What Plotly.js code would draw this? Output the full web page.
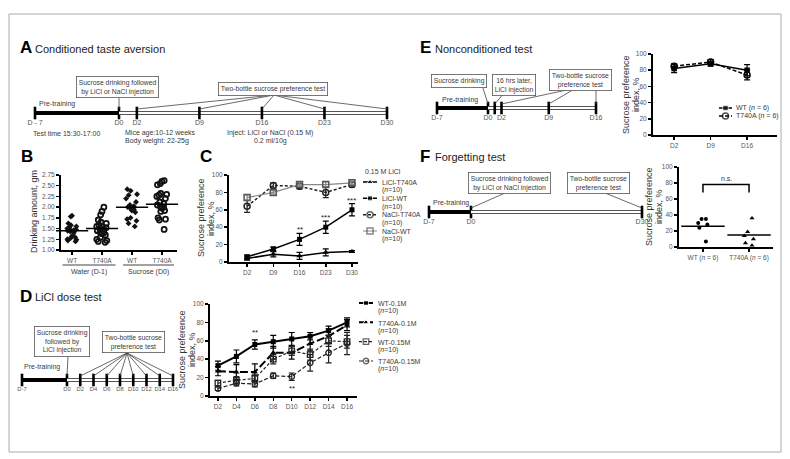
<!DOCTYPE html>
<html><head><meta charset="utf-8">
<script src="https://cdn.plot.ly/plotly-3.0.1.min.js"></script>
<style>html,body{margin:0;padding:0;background:#fff}#chart{width:790px;height:459px}</style>
</head><body><div id="chart"></div>
<script>
// ================= DATA =================
// Panel B: drinking amount (gm)
const bCategories = ["WT-water", "T740A-water", "WT-sucrose", "T740A-sucrose"];
const bTickLabels = ["WT", "T740A", "WT", "T740A"];
const bGroupLabels = ["Water (D-1)", "Sucrose (D0)"];
const bWTWater = [1.80, 1.78, 1.62, 1.58, 1.55, 1.52, 1.50, 1.48, 1.47, 1.46, 1.45, 1.43, 1.40, 1.32, 1.30, 1.28, 1.25, 1.24, 1.22, 1.20];
const bT740AWater = [2.00, 1.90, 1.82, 1.70, 1.65, 1.62, 1.58, 1.55, 1.52, 1.50, 1.48, 1.45, 1.42, 1.40, 1.38, 1.35, 1.30, 1.25, 1.22, 1.20, 1.18];
const bWTSucrose = [2.42, 2.38, 2.30, 2.28, 2.20, 2.12, 2.05, 2.02, 2.00, 1.98, 1.95, 1.92, 1.88, 1.75, 1.72, 1.68, 1.62, 1.55];
const bT740ASucrose = [2.62, 2.60, 2.55, 2.52, 2.32, 2.30, 2.28, 2.25, 2.20, 2.12, 2.08, 2.05, 2.02, 2.00, 1.98, 1.92, 1.90, 1.75, 1.72, 1.70, 1.48];
const bMeans = [1.45, 1.50, 2.00, 2.07];

// Panel C: conditioned taste aversion, sucrose preference index (%)
const cDays = ["D2", "D9", "D16", "D23", "D30"];
const cLiClT740A = [4, 9, 7, 11, 12];     const cLiClT740AErr = [2, 3, 4, 4, 1];
const cLiClWT = [6, 15, 26, 40, 60];      const cLiClWTErr = [2, 2, 7, 7, 7];
const cNaClT740A = [64, 88, 87, 80, 89];  const cNaClT740AErr = [7, 3, 3, 6, 3];
const cNaClWT = [74, 80, 89, 89, 91];     const cNaClWTErr = [3, 2, 2, 3, 2];
const cSeriesNames = ["LiCl-T740A", "LiCl-WT", "NaCl-T740A", "NaCl-WT"];
const cLegendTitle = "0.15 M LiCl";
const cStarDays = ["D16", "D23", "D30"];
const cStarY = [37, 51, 71];
const cStarText = ["**", "***", "***"];

// Panel D: LiCl dose test
const dDays = ["D2", "D4", "D6", "D8", "D10", "D12", "D14", "D16"];
const dWT01 = [33, 43, 56, 59, 62, 65, 71, 80];        const dWT01Err = [5, 7, 5, 7, 7, 4, 5, 5];
const dT740A01 = [27, 26, 26, 47, 47, 57, 65, 77];     const dT740A01Err = [5, 8, 9, 7, 7, 8, 8, 6];
const dWT015 = [14, 17, 19, 40, 49, 45, 60, 59];       const dWT015Err = [3, 4, 4, 5, 5, 6, 6, 7];
const dT740A015 = [8, 14, 13, 22, 21, 36, 47, 57];     const dT740A015Err = [2, 3, 3, 3, 4, 9, 11, 12];
const dSeriesNames = ["WT-0.1M", "T740A-0.1M", "WT-0.15M", "T740A-0.15M"];
const dStarDays = ["D6", "D10"];
const dStarY = [69, 8];
const dStarText = ["**", "**"];

// Panel E: nonconditioned test
const eDays = ["D2", "D9", "D16"];
const eWT = [82, 88, 80];      const eWTErr = [5, 3, 7];
const eT740A = [85, 90, 74];   const eT740AErr = [3, 3, 6];
const eSeriesNames = ["WT (<i>n</i> = 6)", "T740A (<i>n</i> = 6)"];

// Panel F: forgetting test
const fCategories = ["WT", "T740A"];
const fTickLabels = ["WT (<i>n</i> = 6)", "T740A (<i>n</i> = 6)"];
const fWT = [35, 35, 30, 28, 24, 7];
const fT740A = [36, 19, 14, 10, 5, 2];
const fMeans = [26, 15];

// Timelines (days)
const aTimelineDays = [-7, 0, 2, 9, 16, 23, 30];
const aTimelineLabels = ["D - 7", "D0", "D2", "D9", "D16", "D23", "D30"];
const dTimelineDays = [-7, 0, 2, 4, 6, 8, 10, 12, 14, 16];
const dTimelineLabels = ["D-7", "D0", "D2", "D4", "D6", "D8", "D10", "D12", "D14", "D16"];
const eTimelineDays = [-7, 0, 1, 2, 9, 16];
const eTimelineLabels = ["D-7", "D0", "", "D2", "D9", "D16"];
const fTimelineDays = [-7, 0, 30];
const fTimelineLabels = ["D-7", "D0", "D30"];

// ================= LAYOUT HELPERS =================
const W = 790, H = 459;
const X = p => p / W, Y = p => 1 - p / H;
const domX = (a, b) => [X(a), X(b)];
const domY = (top, bottom) => [Y(bottom), Y(top)];
const FONT = "'Liberation Sans', Arial, sans-serif";
const NARROW = "'Liberation Sans Narrow', 'Liberation Sans', Arial, sans-serif";
const TXT = '#3a3a3a';
const layoutAxes = {};
const traces = [];
const ann = [];
const shp = [];

function dataAxis(extra) {
  return Object.assign({
    showgrid: false, zeroline: false, showline: true, linecolor: '#000', linewidth: 2,
    ticks: 'outside', ticklen: 3, tickwidth: 1.5, tickcolor: '#000',
    tickfont: {size: 6.5, color: '#555', family: FONT}, fixedrange: true
  }, extra);
}

// ---- timelines: a pre-training segment and a test segment on two linked axes ----
const tlA = {pre: [35, 119], post: [119, 387], y: 113, xa: ['x6', 'x7'], ya: 'y6', days: aTimelineDays, labels: aTimelineLabels, fs: 7};
const tlD = {pre: [22, 67], post: [67, 173], y: 380, xa: ['x8', 'x9'], ya: 'y7', days: dTimelineDays, labels: dTimelineLabels, fs: 5.8};
const tlE = {pre: [437, 488], post: [488, 596], y: 108, xa: ['x10', 'x11'], ya: 'y8', days: eTimelineDays, labels: eTimelineLabels, fs: 7};
const tlF = {pre: [429, 471], post: [471, 642], y: 212, xa: ['x12', 'x13'], ya: 'y9', days: fTimelineDays, labels: fTimelineLabels, fs: 7};
function tickX(tl, d) {
  const first = tl.days[0], last = tl.days[tl.days.length - 1];
  if (d <= 0) return tl.pre[0] + (d - first) / (0 - first) * (tl.pre[1] - tl.pre[0]);
  return tl.post[0] + d / last * (tl.post[1] - tl.post[0]);
}
function timeline(tl) {
  const first = tl.days[0], last = tl.days[tl.days.length - 1];
  const preDays = tl.days.filter(d => d <= 0), postDays = tl.days.filter(d => d > 0);
  const preLab = tl.labels.filter((l, i) => tl.days[i] <= 0), postLab = tl.labels.filter((l, i) => tl.days[i] > 0);
  const ax = (dom, rng, vals, labs) => ({
    domain: domX(dom[0], dom[1]), range: rng, anchor: tl.ya,
    showgrid: false, zeroline: false, showline: false, ticks: '', tickangle: 0,
    tickmode: 'array', tickvals: vals, ticktext: labs,
    tickfont: {size: tl.fs, color: '#555', family: FONT}, fixedrange: true
  });
  const k1 = tl.xa[0].replace('x', 'xaxis'), k2 = tl.xa[1].replace('x', 'xaxis');
  layoutAxes[k1] = ax(tl.pre, [first, 0], preDays, preLab);
  layoutAxes[k2] = ax(tl.post, [0, last], postDays, postLab);
  layoutAxes[tl.ya.replace('y', 'yaxis')] = {domain: domY(tl.y - 4, tl.y + 4), range: [-1, 1], visible: false, fixedrange: true};
  const base = {yaxis: tl.ya, showlegend: false, hoverinfo: 'skip', cliponaxis: false};
  traces.push(Object.assign({x: [first, 0], y: [0, 0], xaxis: tl.xa[0], mode: 'lines', line: {color: '#000', width: 4}}, base));
  traces.push(Object.assign({x: [0, last], y: [0, 0], xaxis: tl.xa[1], mode: 'lines', line: {color: '#555', width: 4}}, base));
  traces.push(Object.assign({x: [0, last], y: [0, 0], xaxis: tl.xa[1], mode: 'lines', line: {color: '#fff', width: 2}}, base));
  const mk = {symbol: 'line-ns-open', size: 9, color: '#000', line: {color: '#000', width: 2.6}};
  traces.push(Object.assign({x: preDays, y: preDays.map(() => 0), xaxis: tl.xa[0], mode: 'markers', marker: mk}, base));
  traces.push(Object.assign({x: postDays, y: postDays.map(() => 0), xaxis: tl.xa[1], mode: 'markers', marker: mk}, base));
}
[tlA, tlD, tlE, tlF].forEach(timeline);

// ---- dot plots (box traces used only for point spread) ----
function dots(cat, vals, marker, xa, ya, jitter) {
  traces.push({type: 'box', x: vals.map(() => cat), y: vals, xaxis: xa, yaxis: ya,
    boxpoints: 'all', jitter: jitter, pointpos: 0, whiskerwidth: 0,
    fillcolor: 'rgba(0,0,0,0)', line: {color: 'rgba(0,0,0,0)', width: 0},
    marker: marker, showlegend: false, hoverinfo: 'y'});
}
const wtB = {symbol: 'diamond', size: 4.5, color: '#111'};
const mutB = {symbol: 'circle-open', size: 5, color: '#111', line: {color: '#111', width: 1.8}};
dots(bCategories[0], bWTWater, wtB, 'x', 'y', 0.9);
dots(bCategories[1], bT740AWater, mutB, 'x', 'y', 0.9);
dots(bCategories[2], bWTSucrose, wtB, 'x', 'y', 0.9);
dots(bCategories[3], bT740ASucrose, mutB, 'x', 'y', 0.9);
traces.push({x: bCategories, y: bMeans, xaxis: 'x', yaxis: 'y', mode: 'markers',
  marker: {symbol: 'line-ew-open', size: 23, color: '#000', line: {color: '#000', width: 1.5}},
  showlegend: false, hoverinfo: 'y', cliponaxis: false});

// ---- line series ----
function series(name, xs, ys, err, st, xa, ya) {
  traces.push({name: name, x: xs, y: ys, xaxis: xa, yaxis: ya, mode: 'lines+markers',
    line: st.line, marker: st.marker, showlegend: false, cliponaxis: false,
    error_y: {type: 'data', array: err, visible: true, thickness: 1.2, width: 3, color: st.line.color}});
}
const S = {
  lt: {line: {color: '#000', width: 1.5}, marker: {symbol: 'triangle-up', size: 5.5, color: '#000'}},
  lw: {line: {color: '#000', width: 1.5}, marker: {symbol: 'square', size: 5, color: '#000'}},
  nt: {line: {color: '#222', width: 1.5, dash: '3px,2px'}, marker: {symbol: 'circle-open', size: 6, color: '#222', line: {color: '#222', width: 1.5}}},
  nw: {line: {color: '#888', width: 1.2}, marker: {symbol: 'square-open', size: 6, color: '#555', line: {color: '#555', width: 1.5}}},
  dw1: {line: {color: '#000', width: 2}, marker: {symbol: 'square', size: 5, color: '#000'}},
  dt1: {line: {color: '#000', width: 2, dash: '8px,3px'}, marker: {symbol: 'triangle-up', size: 5.5, color: '#000'}},
  dw15: {line: {color: '#222', width: 1.2, dash: '3px,2px'}, marker: {symbol: 'square-open', size: 5.5, color: '#222', line: {color: '#222', width: 1.3}}},
  dt15: {line: {color: '#222', width: 1.2, dash: '4px,2px'}, marker: {symbol: 'circle-open', size: 5.5, color: '#222', line: {color: '#222', width: 1.3}}},
  ew: {line: {color: '#000', width: 1.5}, marker: {symbol: 'square', size: 5.5, color: '#000'}},
  et: {line: {color: '#000', width: 1.5, dash: '4px,2px'}, marker: {symbol: 'circle-open', size: 6, color: '#000', line: {color: '#000', width: 1.5}}}
};
series(cSeriesNames[0], cDays, cLiClT740A, cLiClT740AErr, S.lt, 'x2', 'y2');
series(cSeriesNames[1], cDays, cLiClWT, cLiClWTErr, S.lw, 'x2', 'y2');
series(cSeriesNames[2], cDays, cNaClT740A, cNaClT740AErr, S.nt, 'x2', 'y2');
series(cSeriesNames[3], cDays, cNaClWT, cNaClWTErr, S.nw, 'x2', 'y2');
series(dSeriesNames[0], dDays, dWT01, dWT01Err, S.dw1, 'x3', 'y3');
series(dSeriesNames[1], dDays, dT740A01, dT740A01Err, S.dt1, 'x3', 'y3');
series(dSeriesNames[2], dDays, dWT015, dWT015Err, S.dw15, 'x3', 'y3');
series(dSeriesNames[3], dDays, dT740A015, dT740A015Err, S.dt15, 'x3', 'y3');
series(eSeriesNames[0], eDays, eWT, eWTErr, S.ew, 'x4', 'y4');
series(eSeriesNames[1], eDays, eT740A, eT740AErr, S.et, 'x4', 'y4');

// ---- F dots ----
dots(fCategories[0], fWT, {symbol: 'circle', size: 4, color: '#000'}, 'x5', 'y5', 0.5);
dots(fCategories[1], fT740A, {symbol: 'triangle-up', size: 4.5, color: '#000'}, 'x5', 'y5', 0.5);
traces.push({x: fCategories, y: fMeans, xaxis: 'x5', yaxis: 'y5', mode: 'markers',
  marker: {symbol: 'line-ew-open', size: 31, color: '#000', line: {color: '#000', width: 1.5}},
  showlegend: false, hoverinfo: 'skip', cliponaxis: false});

// ---- compact legends (short keys like the original) ----
function T(x, y, text, o) {
  ann.push(Object.assign({x: X(x), y: Y(y), xref: 'paper', yref: 'paper', text: text, showarrow: false,
    font: {size: 7, color: TXT, family: FONT}, xanchor: 'center', yanchor: 'middle'}, o || {}));
}
function keyLegend(xa, ya, keyDom, rowsPx, textX, names, styles, second) {
  const n = names.length;
  const gap = (rowsPx[n - 1] - rowsPx[0]) / Math.max(n - 1, 1);
  layoutAxes[xa.replace('x', 'xaxis')] = {domain: domX(keyDom[0], keyDom[1]), range: [0, 1], visible: false, fixedrange: true, anchor: ya};
  layoutAxes[ya.replace('y', 'yaxis')] = {domain: domY(rowsPx[0] - gap / 2, rowsPx[n - 1] + gap / 2), range: [n - 0.5, -0.5], visible: false, fixedrange: true, anchor: xa};
  names.forEach((nm, i) => {
    const st = styles[i];
    traces.push({x: [0, 0.5, 1], y: [i, i, i], xaxis: xa, yaxis: ya, mode: 'lines+markers', line: st.line,
      marker: Object.assign({}, st.marker, {size: [0, st.marker.size, 0]}), showlegend: false, hoverinfo: 'skip', cliponaxis: false});
    T(textX, rowsPx[i], nm, {xanchor: 'left'});
    if (second) T(textX, rowsPx[i] + 8, second, {xanchor: 'left'});
  });
}
keyLegend('x14', 'y10', [363, 377], [182, 199, 215, 231], 380, cSeriesNames, [S.lt, S.lw, S.nt, S.nw], '(<i>n</i>=10)');
T(363, 172, cLegendTitle, {xanchor: 'left'});
keyLegend('x15', 'y11', [359, 373], [303, 323, 342, 361], 376, dSeriesNames, [S.dw1, S.dt1, S.dw15, S.dt15], '(<i>n</i>=10)');
keyLegend('x16', 'y12', [719, 732], [108, 116], 734, eSeriesNames, [S.ew, S.et], null);

// ================= ANNOTATIONS & SHAPES =================
function BOX(x, y, text) {
  T(x, y, text, {bordercolor: '#555', borderwidth: 0.8, borderpad: 2, bgcolor: '#fff', font: {size: 6.8, color: TXT, family: FONT}});
}
function L(x0, y0, x1, y1) {
  shp.push({type: 'line', xref: 'paper', yref: 'paper', x0: X(x0), y0: Y(y0), x1: X(x1), y1: Y(y1),
    line: {color: '#444', width: 0.8}});
}
function heading(x, y, letter, title) {
  T(x, y, '<b>' + letter + '</b>', {xanchor: 'left', font: {size: 17, color: '#000', family: NARROW}});
  if (title) T(x + 15, y + 1, title, {xanchor: 'left', font: {size: 11, color: '#222', family: NARROW}});
}
function ytitle(x1, x2, y, line1, line2) {
  const f = {size: 9, color: '#333', family: FONT};
  T(x1, y, line1, {textangle: -90, font: f});
  if (line2) T(x2, y, line2, {textangle: -90, font: f});
}

// frame
shp.push({type: 'rect', xref: 'paper', yref: 'paper', x0: X(9), x1: X(781), y0: Y(452), y1: Y(14),
  line: {color: '#aaa', width: 1}});

// Panel A
heading(18, 48, 'A', 'Conditioned taste aversion');
BOX(117, 87, 'Sucrose drinking followed<br>by LiCl or NaCl injection');
BOX(273, 89, 'Two-bottle sucrose preference test');
T(57, 104, 'Pre-training');
T(31, 133, 'Test time 15:30-17:00', {xanchor: 'left'});
T(123, 133, 'Mice age:10-12 weeks', {xanchor: 'left'});
T(123, 141, 'Body weight: 22-25g', {xanchor: 'left'});
T(270, 133, 'Inject: LiCl or NaCl (0.15 M)');
T(270, 141, '0.2 ml/10g');
L(119, 98, tickX(tlA, 0), tlA.y - 4);
aTimelineDays.filter(d => d >= 2).forEach(d => L(274, 95, tickX(tlA, d), tlA.y - 4));

// Panel B
heading(19, 156, 'B');
ytitle(34, 0, 212, 'Drinking amount, gm');
shp.push({type: 'line', xref: 'x', yref: 'paper', x0: -0.32, x1: 1.45, y0: Y(265), y1: Y(265), line: {color: '#444', width: 1}});
shp.push({type: 'line', xref: 'x', yref: 'paper', x0: 1.7, x1: 3.4, y0: Y(265), y1: Y(265), line: {color: '#444', width: 1}});
ann.push({x: 0.55, y: Y(272), xref: 'x', yref: 'paper', text: bGroupLabels[0], showarrow: false, font: {size: 7, color: TXT, family: FONT}});
ann.push({x: 2.55, y: Y(272), xref: 'x', yref: 'paper', text: bGroupLabels[1], showarrow: false, font: {size: 7, color: TXT, family: FONT}});

// Panel C
heading(198, 156, 'C');
ytitle(201, 211, 218, 'Sucrose preference', 'index, %');
cStarDays.forEach((d, i) => ann.push({x: d, y: cStarY[i], xref: 'x2', yref: 'y2', text: cStarText[i],
  showarrow: false, font: {size: 8, color: '#222', family: FONT}}));

// Panel D
heading(18, 296, 'D', 'LiCl dose test');
BOX(62, 341, 'Sucrose drinking<br>followed by<br>LiCl injection');
BOX(133, 342, 'Two-bottle sucrose<br>preference test');
T(42, 367, 'Pre-training');
L(68, 356, tickX(tlD, 0), tlD.y - 4);
dTimelineDays.filter(d => d >= 2).forEach(d => L(127, 353, tickX(tlD, d), tlD.y - 4));
ytitle(182, 192, 350, 'Sucrose preference', 'index, %');
dStarDays.forEach((d, i) => ann.push({x: d, y: dStarY[i], xref: 'x3', yref: 'y3', text: dStarText[i],
  showarrow: false, font: {size: 8, color: '#222', family: FONT}}));

// Panel E
heading(418, 48, 'E', 'Nonconditioned test');
BOX(459, 81, 'Sucrose drinking');
BOX(514, 85, '16 hrs later,<br>LiCl injection');
BOX(580, 80, 'Two-bottle sucrose<br>preference test');
T(460, 100, 'Pre-training');
L(482, 85, tickX(tlE, 0), tlE.y - 4);
L(504, 93, tickX(tlE, 1), tlE.y - 4);
L(576, 88, tickX(tlE, 2), tlE.y - 4);
L(576, 88, tickX(tlE, 9), tlE.y - 4);
L(596, 88, tickX(tlE, 16), tlE.y - 4);
ytitle(626, 636, 95, 'Sucrose preference', 'index, %');

// Panel F
heading(418, 156, 'F', 'Forgetting test');
BOX(509, 183, 'Sucrose drinking followed<br>by LiCl or NaCl injection');
BOX(598, 183, 'Two-bottle sucrose<br>preference test');
T(451, 203, 'Pre-training');
L(505, 193, tickX(tlF, 0), tlF.y - 4);
L(605, 193, tickX(tlF, 30), tlF.y - 4);
ytitle(649, 659, 207, 'Sucrose preference', 'index, %');
shp.push({type: 'path', xref: 'x5', yref: 'y5', path: 'M 0 68 L 0 78 L 1 78 L 1 68',
  line: {color: '#000', width: 1.5}});
ann.push({x: 0.5, y: 86, xref: 'x5', yref: 'y5', text: 'n.s.', showarrow: false, font: {size: 7, color: TXT, family: FONT}});

// ================= LAYOUT =================
const layout = Object.assign({
  width: W, height: H, margin: {l: 0, r: 0, t: 0, b: 0},
  paper_bgcolor: '#fff', plot_bgcolor: 'rgba(0,0,0,0)',
  font: {family: FONT, color: TXT, size: 7},
  boxmode: 'overlay', showlegend: false,
  xaxis: dataAxis({type: 'category', categoryorder: 'array', categoryarray: bCategories,
    tickmode: 'array', tickvals: bCategories, ticktext: bTickLabels, range: [-0.37, 3.5],
    domain: domX(61, 177), anchor: 'y'}),
  yaxis: dataAxis({range: [1, 2.75], tick0: 1, dtick: 0.25, tickformat: '.2f', domain: domY(175, 250), anchor: 'x'}),
  xaxis2: dataAxis({type: 'category', categoryorder: 'array', categoryarray: cDays, range: [-0.69, 4.23],
    domain: domX(229, 358), anchor: 'y2'}),
  yaxis2: dataAxis({range: [0, 100], dtick: 20, domain: domY(175, 262), anchor: 'x2'}),
  xaxis3: dataAxis({type: 'category', categoryorder: 'array', categoryarray: dDays, range: [-0.43, 7.54],
    domain: domX(210, 357), anchor: 'y3'}),
  yaxis3: dataAxis({range: [0, 100], dtick: 20, domain: domY(304, 396), anchor: 'x3'}),
  xaxis4: dataAxis({type: 'category', categoryorder: 'array', categoryarray: eDays, range: [-0.58, 2.82],
    domain: domX(653, 777), anchor: 'y4'}),
  yaxis4: dataAxis({range: [0, 100], dtick: 20, domain: domY(54, 135), anchor: 'x4'}),
  xaxis5: dataAxis({type: 'category', categoryorder: 'array', categoryarray: fCategories,
    tickmode: 'array', tickvals: fCategories, ticktext: fTickLabels, range: [-0.52, 1.52],
    domain: domX(679, 773), anchor: 'y5'}),
  yaxis5: dataAxis({range: [0, 100], dtick: 20, domain: domY(167, 247), anchor: 'x5'}),
  annotations: ann,
  shapes: shp
}, layoutAxes);

Plotly.newPlot('chart', traces, layout, {staticPlot: true, displayModeBar: false});
</script>
</body></html>
